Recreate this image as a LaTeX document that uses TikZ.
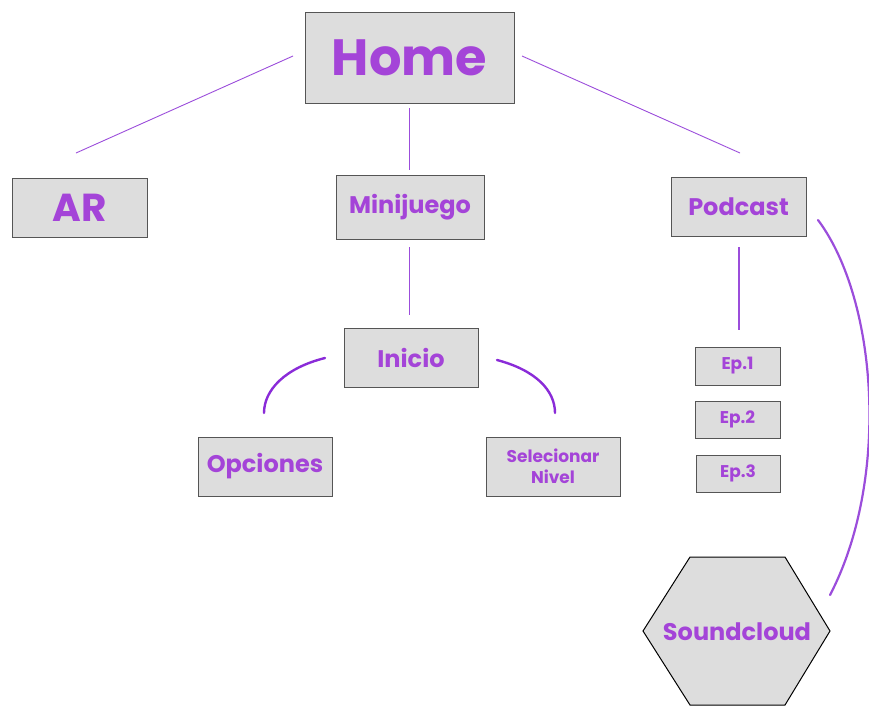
\documentclass[tikz,border=0pt]{standalone}
\usepackage{fontspec}
\setmainfont{Poppins}
\usetikzlibrary{shapes.geometric}
\definecolor{txt}{HTML}{A444D8}
\definecolor{ln}{HTML}{9B4DDB}
\definecolor{arcc}{HTML}{8A2BD8}
\definecolor{boxf}{HTML}{DDDDDD}
\definecolor{boxd}{HTML}{555555}
\tikzset{
  box/.style={draw=boxd, fill=boxf, line width=1pt, text=txt, font=\bfseries, align=center, inner sep=0pt},
  thin/.style={draw=ln, line width=0.9pt},
  thick/.style={draw=arcc, line width=2.4pt, line cap=round},
  mid/.style={font=\bfseries\fontsize{24}{28}\selectfont},
  small/.style={font=\bfseries\fontsize{17}{21}\selectfont},
}
\begin{document}
\begin{tikzpicture}[x=1pt,y=-1pt]
\useasboundingbox (0,0) rectangle (869,705);
\node[box, minimum width=209pt, minimum height=91pt, font=\bfseries\fontsize{51}{56}\selectfont] (home) at (409.5,57.5) {Home};
\node[box, minimum width=135pt, minimum height=59pt, font=\bfseries\fontsize{39}{42}\selectfont] (ar) at (79.5,207.5) {AR};
\node[box, minimum width=148pt, minimum height=64pt, mid] (mini) at (410,207) {Minijuego};
\node[box, minimum width=135pt, minimum height=59pt, mid] (pod) at (738.5,206.5) {Podcast};
\node[box, minimum width=134pt, minimum height=59pt, mid] (ini) at (411,357.5) {Inicio};
\node[box, minimum width=134pt, minimum height=59pt, mid] (opc) at (265,466.5) {Opciones};
\node[box, minimum width=134pt, minimum height=59pt, small] (sel) at (553,466.5) {Selecionar\\Nivel};
\node[box, minimum width=85pt, minimum height=38pt, small] (ep1) at (737.5,366) {Ep.1};
\node[box, minimum width=85pt, minimum height=37pt, small] (ep2) at (737.5,419.5) {Ep.2};
\node[box, minimum width=84pt, minimum height=37pt, small] (ep3) at (738,473.5) {Ep.3};
% hexagon
\draw[draw=black, fill=boxf, line width=1pt] (643,631) -- (690,557) -- (785,557) -- (830,631) -- (785,705) -- (690,705) -- cycle;
\node[text=txt, mid, inner sep=0pt] (sc) at (737,632) {Soundcloud};
% connector endpoints
\coordinate (hA) at (293,56);
\coordinate (aH) at (76,153);
\coordinate (hM) at (409,108);
\coordinate (mH) at (409,170);
\coordinate (hP) at (522,56);
\coordinate (pH) at (740,153);
\coordinate (mI) at (409,247);
\coordinate (iM) at (409,315);
\coordinate (pE) at (739,247);
\coordinate (eP) at (739,330);
\coordinate (iO) at (325,358);
\coordinate (oI) at (264,413);
\coordinate (iS) at (497,360);
\coordinate (sI) at (555,413);
\coordinate (pS) at (818,220);
\coordinate (sP) at (830,595);
\draw[thin] (hA) -- (aH);
\draw[thin] (hM) -- (mH);
\draw[thin] (hP) -- (pH);
\draw[thin] (mI) -- (iM);
\draw[draw=ln, line width=2pt] (pE) -- (eP);
\draw[thick] (iO) .. controls (285,368) and (264,390) .. (oI);
\draw[thick] (iS) .. controls (535,370) and (555,390) .. (sI);
\draw[draw=ln, line width=2.2pt, line cap=round] (pS) .. controls (878,300) and (890,480) .. (sP);
\end{tikzpicture}
\end{document}
